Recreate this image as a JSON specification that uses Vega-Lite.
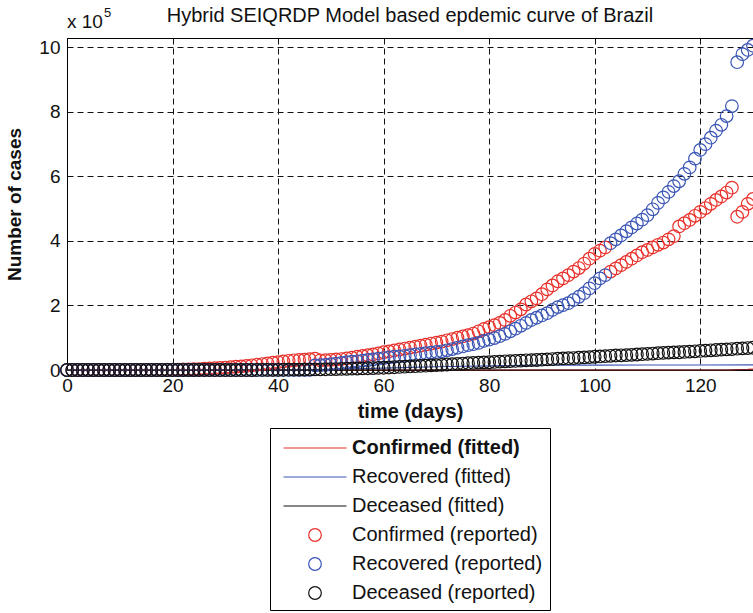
{
"$schema": "https://vega.github.io/schema/vega-lite/v6.json",
"autosize": {"type": "none"},
"padding": {"left": 67, "top": 38, "right": 0, "bottom": 243},
"width": 686,
"height": 332,
"background": "white",
"config": {"font": "Liberation Sans", "view": {"stroke": "black", "strokeWidth": 1}},
"datasets": {
"fitted": [
{"day":0,"series":"Confirmed (fitted)","cases":0},{"day":40,"series":"Confirmed (fitted)","cases":0},{"day":80,"series":"Confirmed (fitted)","cases":0},{"day":120,"series":"Confirmed (fitted)","cases":0},{"day":125,"series":"Confirmed (fitted)","cases":0},{"day":126,"series":"Confirmed (fitted)","cases":500},{"day":127,"series":"Confirmed (fitted)","cases":1000},{"day":128,"series":"Confirmed (fitted)","cases":1500},{"day":129,"series":"Confirmed (fitted)","cases":2000},{"day":130,"series":"Confirmed (fitted)","cases":3000},
{"day":0,"series":"Recovered (fitted)","cases":0},{"day":20,"series":"Recovered (fitted)","cases":0},{"day":40,"series":"Recovered (fitted)","cases":0},{"day":50,"series":"Recovered (fitted)","cases":2000},{"day":60,"series":"Recovered (fitted)","cases":6000},{"day":70,"series":"Recovered (fitted)","cases":10000},{"day":80,"series":"Recovered (fitted)","cases":13000},{"day":90,"series":"Recovered (fitted)","cases":15000},{"day":100,"series":"Recovered (fitted)","cases":15000},{"day":110,"series":"Recovered (fitted)","cases":15500},{"day":120,"series":"Recovered (fitted)","cases":15500},{"day":130,"series":"Recovered (fitted)","cases":16000},
{"day":0,"series":"Deceased (fitted)","cases":0},{"day":65,"series":"Deceased (fitted)","cases":0},{"day":130,"series":"Deceased (fitted)","cases":0}
],
"reported": [
{"day":0,"series":"Confirmed (reported)","cases":0},{"day":1,"series":"Confirmed (reported)","cases":0},{"day":2,"series":"Confirmed (reported)","cases":0},{"day":3,"series":"Confirmed (reported)","cases":0},{"day":4,"series":"Confirmed (reported)","cases":0},{"day":5,"series":"Confirmed (reported)","cases":0},{"day":6,"series":"Confirmed (reported)","cases":0},{"day":7,"series":"Confirmed (reported)","cases":0},{"day":8,"series":"Confirmed (reported)","cases":0},{"day":9,"series":"Confirmed (reported)","cases":0},
{"day":10,"series":"Confirmed (reported)","cases":0},{"day":11,"series":"Confirmed (reported)","cases":0},{"day":12,"series":"Confirmed (reported)","cases":0},{"day":13,"series":"Confirmed (reported)","cases":0},{"day":14,"series":"Confirmed (reported)","cases":100},{"day":15,"series":"Confirmed (reported)","cases":200},{"day":16,"series":"Confirmed (reported)","cases":300},{"day":17,"series":"Confirmed (reported)","cases":400},{"day":18,"series":"Confirmed (reported)","cases":500},{"day":19,"series":"Confirmed (reported)","cases":700},
{"day":20,"series":"Confirmed (reported)","cases":1000},{"day":21,"series":"Confirmed (reported)","cases":1200},{"day":22,"series":"Confirmed (reported)","cases":1600},{"day":23,"series":"Confirmed (reported)","cases":2000},{"day":24,"series":"Confirmed (reported)","cases":2500},{"day":25,"series":"Confirmed (reported)","cases":3000},{"day":26,"series":"Confirmed (reported)","cases":3800},{"day":27,"series":"Confirmed (reported)","cases":4600},{"day":28,"series":"Confirmed (reported)","cases":5500},{"day":29,"series":"Confirmed (reported)","cases":6500},
{"day":30,"series":"Confirmed (reported)","cases":7600},{"day":31,"series":"Confirmed (reported)","cases":8800},{"day":32,"series":"Confirmed (reported)","cases":10000},{"day":33,"series":"Confirmed (reported)","cases":11200},{"day":34,"series":"Confirmed (reported)","cases":12800},{"day":35,"series":"Confirmed (reported)","cases":14500},{"day":36,"series":"Confirmed (reported)","cases":16500},{"day":37,"series":"Confirmed (reported)","cases":18500},{"day":38,"series":"Confirmed (reported)","cases":20500},{"day":39,"series":"Confirmed (reported)","cases":22500},
{"day":40,"series":"Confirmed (reported)","cases":24500},{"day":41,"series":"Confirmed (reported)","cases":26500},{"day":42,"series":"Confirmed (reported)","cases":28500},{"day":43,"series":"Confirmed (reported)","cases":30000},{"day":44,"series":"Confirmed (reported)","cases":31000},{"day":45,"series":"Confirmed (reported)","cases":32000},{"day":46,"series":"Confirmed (reported)","cases":33500},{"day":47,"series":"Confirmed (reported)","cases":35000},{"day":48,"series":"Confirmed (reported)","cases":30000},{"day":49,"series":"Confirmed (reported)","cases":30500},
{"day":50,"series":"Confirmed (reported)","cases":31500},{"day":51,"series":"Confirmed (reported)","cases":32500},{"day":52,"series":"Confirmed (reported)","cases":34000},{"day":53,"series":"Confirmed (reported)","cases":36000},{"day":54,"series":"Confirmed (reported)","cases":38500},{"day":55,"series":"Confirmed (reported)","cases":41000},{"day":56,"series":"Confirmed (reported)","cases":43500},{"day":57,"series":"Confirmed (reported)","cases":46000},{"day":58,"series":"Confirmed (reported)","cases":48500},{"day":59,"series":"Confirmed (reported)","cases":51500},
{"day":60,"series":"Confirmed (reported)","cases":55000},{"day":61,"series":"Confirmed (reported)","cases":57500},{"day":62,"series":"Confirmed (reported)","cases":60500},{"day":63,"series":"Confirmed (reported)","cases":63500},{"day":64,"series":"Confirmed (reported)","cases":66500},{"day":65,"series":"Confirmed (reported)","cases":69500},{"day":66,"series":"Confirmed (reported)","cases":72500},{"day":67,"series":"Confirmed (reported)","cases":75500},{"day":68,"series":"Confirmed (reported)","cases":78500},{"day":69,"series":"Confirmed (reported)","cases":82000},
{"day":70,"series":"Confirmed (reported)","cases":85000},{"day":71,"series":"Confirmed (reported)","cases":88000},{"day":72,"series":"Confirmed (reported)","cases":92000},{"day":73,"series":"Confirmed (reported)","cases":96000},{"day":74,"series":"Confirmed (reported)","cases":100000},{"day":75,"series":"Confirmed (reported)","cases":104000},{"day":76,"series":"Confirmed (reported)","cases":108000},{"day":77,"series":"Confirmed (reported)","cases":113000},{"day":78,"series":"Confirmed (reported)","cases":120000},{"day":79,"series":"Confirmed (reported)","cases":127000},
{"day":80,"series":"Confirmed (reported)","cases":133000},{"day":81,"series":"Confirmed (reported)","cases":139000},{"day":82,"series":"Confirmed (reported)","cases":146000},{"day":83,"series":"Confirmed (reported)","cases":155000},{"day":84,"series":"Confirmed (reported)","cases":168000},{"day":85,"series":"Confirmed (reported)","cases":178000},{"day":86,"series":"Confirmed (reported)","cases":188000},{"day":87,"series":"Confirmed (reported)","cases":203000},{"day":88,"series":"Confirmed (reported)","cases":213000},{"day":89,"series":"Confirmed (reported)","cases":222000},
{"day":90,"series":"Confirmed (reported)","cases":235000},{"day":91,"series":"Confirmed (reported)","cases":250000},{"day":92,"series":"Confirmed (reported)","cases":262000},{"day":93,"series":"Confirmed (reported)","cases":275000},{"day":94,"series":"Confirmed (reported)","cases":284000},{"day":95,"series":"Confirmed (reported)","cases":294000},{"day":96,"series":"Confirmed (reported)","cases":305000},{"day":97,"series":"Confirmed (reported)","cases":316000},{"day":98,"series":"Confirmed (reported)","cases":330000},{"day":99,"series":"Confirmed (reported)","cases":345000},
{"day":100,"series":"Confirmed (reported)","cases":360000},{"day":101,"series":"Confirmed (reported)","cases":370000},{"day":102,"series":"Confirmed (reported)","cases":380000},{"day":103,"series":"Confirmed (reported)","cases":305000},{"day":104,"series":"Confirmed (reported)","cases":315000},{"day":105,"series":"Confirmed (reported)","cases":325000},{"day":106,"series":"Confirmed (reported)","cases":335000},{"day":107,"series":"Confirmed (reported)","cases":345000},{"day":108,"series":"Confirmed (reported)","cases":355000},{"day":109,"series":"Confirmed (reported)","cases":365000},
{"day":110,"series":"Confirmed (reported)","cases":372000},{"day":111,"series":"Confirmed (reported)","cases":380000},{"day":112,"series":"Confirmed (reported)","cases":388000},{"day":113,"series":"Confirmed (reported)","cases":395000},{"day":114,"series":"Confirmed (reported)","cases":405000},{"day":115,"series":"Confirmed (reported)","cases":415000},{"day":116,"series":"Confirmed (reported)","cases":445000},{"day":117,"series":"Confirmed (reported)","cases":455000},{"day":118,"series":"Confirmed (reported)","cases":465000},{"day":119,"series":"Confirmed (reported)","cases":478000},
{"day":120,"series":"Confirmed (reported)","cases":490000},{"day":121,"series":"Confirmed (reported)","cases":502000},{"day":122,"series":"Confirmed (reported)","cases":515000},{"day":123,"series":"Confirmed (reported)","cases":527000},{"day":124,"series":"Confirmed (reported)","cases":538000},{"day":125,"series":"Confirmed (reported)","cases":550000},{"day":126,"series":"Confirmed (reported)","cases":565000},{"day":127,"series":"Confirmed (reported)","cases":475000},{"day":128,"series":"Confirmed (reported)","cases":490000},{"day":129,"series":"Confirmed (reported)","cases":515000},
{"day":130,"series":"Confirmed (reported)","cases":530000},
{"day":0,"series":"Recovered (reported)","cases":0},{"day":1,"series":"Recovered (reported)","cases":0},{"day":2,"series":"Recovered (reported)","cases":0},{"day":3,"series":"Recovered (reported)","cases":0},{"day":4,"series":"Recovered (reported)","cases":0},{"day":5,"series":"Recovered (reported)","cases":0},{"day":6,"series":"Recovered (reported)","cases":0},{"day":7,"series":"Recovered (reported)","cases":0},{"day":8,"series":"Recovered (reported)","cases":0},{"day":9,"series":"Recovered (reported)","cases":0},
{"day":10,"series":"Recovered (reported)","cases":0},{"day":11,"series":"Recovered (reported)","cases":0},{"day":12,"series":"Recovered (reported)","cases":0},{"day":13,"series":"Recovered (reported)","cases":0},{"day":14,"series":"Recovered (reported)","cases":0},{"day":15,"series":"Recovered (reported)","cases":0},{"day":16,"series":"Recovered (reported)","cases":0},{"day":17,"series":"Recovered (reported)","cases":0},{"day":18,"series":"Recovered (reported)","cases":0},{"day":19,"series":"Recovered (reported)","cases":0},
{"day":20,"series":"Recovered (reported)","cases":0},{"day":21,"series":"Recovered (reported)","cases":0},{"day":22,"series":"Recovered (reported)","cases":0},{"day":23,"series":"Recovered (reported)","cases":0},{"day":24,"series":"Recovered (reported)","cases":0},{"day":25,"series":"Recovered (reported)","cases":100},{"day":26,"series":"Recovered (reported)","cases":100},{"day":27,"series":"Recovered (reported)","cases":100},{"day":28,"series":"Recovered (reported)","cases":100},{"day":29,"series":"Recovered (reported)","cases":100},
{"day":30,"series":"Recovered (reported)","cases":100},{"day":31,"series":"Recovered (reported)","cases":100},{"day":32,"series":"Recovered (reported)","cases":100},{"day":33,"series":"Recovered (reported)","cases":100},{"day":34,"series":"Recovered (reported)","cases":100},{"day":35,"series":"Recovered (reported)","cases":100},{"day":36,"series":"Recovered (reported)","cases":100},{"day":37,"series":"Recovered (reported)","cases":100},{"day":38,"series":"Recovered (reported)","cases":100},{"day":39,"series":"Recovered (reported)","cases":100},
{"day":40,"series":"Recovered (reported)","cases":100},{"day":41,"series":"Recovered (reported)","cases":100},{"day":42,"series":"Recovered (reported)","cases":100},{"day":43,"series":"Recovered (reported)","cases":100},{"day":44,"series":"Recovered (reported)","cases":100},{"day":45,"series":"Recovered (reported)","cases":100},{"day":46,"series":"Recovered (reported)","cases":100},{"day":47,"series":"Recovered (reported)","cases":14000},{"day":48,"series":"Recovered (reported)","cases":15000},{"day":49,"series":"Recovered (reported)","cases":16000},
{"day":50,"series":"Recovered (reported)","cases":18000},{"day":51,"series":"Recovered (reported)","cases":20000},{"day":52,"series":"Recovered (reported)","cases":22000},{"day":53,"series":"Recovered (reported)","cases":24000},{"day":54,"series":"Recovered (reported)","cases":26000},{"day":55,"series":"Recovered (reported)","cases":27000},{"day":56,"series":"Recovered (reported)","cases":29000},{"day":57,"series":"Recovered (reported)","cases":31000},{"day":58,"series":"Recovered (reported)","cases":33000},{"day":59,"series":"Recovered (reported)","cases":35000},
{"day":60,"series":"Recovered (reported)","cases":37000},{"day":61,"series":"Recovered (reported)","cases":39000},{"day":62,"series":"Recovered (reported)","cases":41000},{"day":63,"series":"Recovered (reported)","cases":42000},{"day":64,"series":"Recovered (reported)","cases":44000},{"day":65,"series":"Recovered (reported)","cases":46000},{"day":66,"series":"Recovered (reported)","cases":48000},{"day":67,"series":"Recovered (reported)","cases":50000},{"day":68,"series":"Recovered (reported)","cases":52000},{"day":69,"series":"Recovered (reported)","cases":54000},
{"day":70,"series":"Recovered (reported)","cases":56000},{"day":71,"series":"Recovered (reported)","cases":58000},{"day":72,"series":"Recovered (reported)","cases":61000},{"day":73,"series":"Recovered (reported)","cases":65000},{"day":74,"series":"Recovered (reported)","cases":69000},{"day":75,"series":"Recovered (reported)","cases":73000},{"day":76,"series":"Recovered (reported)","cases":77000},{"day":77,"series":"Recovered (reported)","cases":80000},{"day":78,"series":"Recovered (reported)","cases":84000},{"day":79,"series":"Recovered (reported)","cases":90000},
{"day":80,"series":"Recovered (reported)","cases":94000},{"day":81,"series":"Recovered (reported)","cases":99000},{"day":82,"series":"Recovered (reported)","cases":105000},{"day":83,"series":"Recovered (reported)","cases":112000},{"day":84,"series":"Recovered (reported)","cases":120000},{"day":85,"series":"Recovered (reported)","cases":128000},{"day":86,"series":"Recovered (reported)","cases":137000},{"day":87,"series":"Recovered (reported)","cases":146000},{"day":88,"series":"Recovered (reported)","cases":155000},{"day":89,"series":"Recovered (reported)","cases":162000},
{"day":90,"series":"Recovered (reported)","cases":169000},{"day":91,"series":"Recovered (reported)","cases":176000},{"day":92,"series":"Recovered (reported)","cases":186000},{"day":93,"series":"Recovered (reported)","cases":195000},{"day":94,"series":"Recovered (reported)","cases":201000},{"day":95,"series":"Recovered (reported)","cases":207000},{"day":96,"series":"Recovered (reported)","cases":217000},{"day":97,"series":"Recovered (reported)","cases":227000},{"day":98,"series":"Recovered (reported)","cases":238000},{"day":99,"series":"Recovered (reported)","cases":253000},
{"day":100,"series":"Recovered (reported)","cases":269000},{"day":101,"series":"Recovered (reported)","cases":284000},{"day":102,"series":"Recovered (reported)","cases":294000},{"day":103,"series":"Recovered (reported)","cases":393000},{"day":104,"series":"Recovered (reported)","cases":405000},{"day":105,"series":"Recovered (reported)","cases":417000},{"day":106,"series":"Recovered (reported)","cases":430000},{"day":107,"series":"Recovered (reported)","cases":442000},{"day":108,"series":"Recovered (reported)","cases":454000},{"day":109,"series":"Recovered (reported)","cases":466000},
{"day":110,"series":"Recovered (reported)","cases":480000},{"day":111,"series":"Recovered (reported)","cases":498000},{"day":112,"series":"Recovered (reported)","cases":518000},{"day":113,"series":"Recovered (reported)","cases":535000},{"day":114,"series":"Recovered (reported)","cases":552000},{"day":115,"series":"Recovered (reported)","cases":570000},{"day":116,"series":"Recovered (reported)","cases":585000},{"day":117,"series":"Recovered (reported)","cases":608000},{"day":118,"series":"Recovered (reported)","cases":628000},{"day":119,"series":"Recovered (reported)","cases":655000},
{"day":120,"series":"Recovered (reported)","cases":682000},{"day":121,"series":"Recovered (reported)","cases":700000},{"day":122,"series":"Recovered (reported)","cases":720000},{"day":123,"series":"Recovered (reported)","cases":742000},{"day":124,"series":"Recovered (reported)","cases":760000},{"day":125,"series":"Recovered (reported)","cases":787000},{"day":126,"series":"Recovered (reported)","cases":818000},{"day":127,"series":"Recovered (reported)","cases":954000},{"day":128,"series":"Recovered (reported)","cases":979000},{"day":129,"series":"Recovered (reported)","cases":992000},
{"day":130,"series":"Recovered (reported)","cases":1005000},
{"day":0,"series":"Deceased  (reported)","cases":0},{"day":1,"series":"Deceased  (reported)","cases":0},{"day":2,"series":"Deceased  (reported)","cases":0},{"day":3,"series":"Deceased  (reported)","cases":0},{"day":4,"series":"Deceased  (reported)","cases":0},{"day":5,"series":"Deceased  (reported)","cases":0},{"day":6,"series":"Deceased  (reported)","cases":0},{"day":7,"series":"Deceased  (reported)","cases":0},{"day":8,"series":"Deceased  (reported)","cases":0},{"day":9,"series":"Deceased  (reported)","cases":0},
{"day":10,"series":"Deceased  (reported)","cases":0},{"day":11,"series":"Deceased  (reported)","cases":0},{"day":12,"series":"Deceased  (reported)","cases":0},{"day":13,"series":"Deceased  (reported)","cases":0},{"day":14,"series":"Deceased  (reported)","cases":0},{"day":15,"series":"Deceased  (reported)","cases":0},{"day":16,"series":"Deceased  (reported)","cases":0},{"day":17,"series":"Deceased  (reported)","cases":0},{"day":18,"series":"Deceased  (reported)","cases":0},{"day":19,"series":"Deceased  (reported)","cases":0},
{"day":20,"series":"Deceased  (reported)","cases":0},{"day":21,"series":"Deceased  (reported)","cases":0},{"day":22,"series":"Deceased  (reported)","cases":0},{"day":23,"series":"Deceased  (reported)","cases":0},{"day":24,"series":"Deceased  (reported)","cases":0},{"day":25,"series":"Deceased  (reported)","cases":0},{"day":26,"series":"Deceased  (reported)","cases":0},{"day":27,"series":"Deceased  (reported)","cases":0},{"day":28,"series":"Deceased  (reported)","cases":0},{"day":29,"series":"Deceased  (reported)","cases":0},
{"day":30,"series":"Deceased  (reported)","cases":0},{"day":31,"series":"Deceased  (reported)","cases":0},{"day":32,"series":"Deceased  (reported)","cases":0},{"day":33,"series":"Deceased  (reported)","cases":0},{"day":34,"series":"Deceased  (reported)","cases":0},{"day":35,"series":"Deceased  (reported)","cases":0},{"day":36,"series":"Deceased  (reported)","cases":200},{"day":37,"series":"Deceased  (reported)","cases":300},{"day":38,"series":"Deceased  (reported)","cases":400},{"day":39,"series":"Deceased  (reported)","cases":500},
{"day":40,"series":"Deceased  (reported)","cases":600},{"day":41,"series":"Deceased  (reported)","cases":800},{"day":42,"series":"Deceased  (reported)","cases":1000},{"day":43,"series":"Deceased  (reported)","cases":1200},{"day":44,"series":"Deceased  (reported)","cases":1300},{"day":45,"series":"Deceased  (reported)","cases":1500},{"day":46,"series":"Deceased  (reported)","cases":1700},{"day":47,"series":"Deceased  (reported)","cases":1900},{"day":48,"series":"Deceased  (reported)","cases":2100},{"day":49,"series":"Deceased  (reported)","cases":2400},
{"day":50,"series":"Deceased  (reported)","cases":2700},{"day":51,"series":"Deceased  (reported)","cases":3000},{"day":52,"series":"Deceased  (reported)","cases":3400},{"day":53,"series":"Deceased  (reported)","cases":3800},{"day":54,"series":"Deceased  (reported)","cases":4200},{"day":55,"series":"Deceased  (reported)","cases":4600},{"day":56,"series":"Deceased  (reported)","cases":5000},{"day":57,"series":"Deceased  (reported)","cases":5500},{"day":58,"series":"Deceased  (reported)","cases":6000},{"day":59,"series":"Deceased  (reported)","cases":6500},
{"day":60,"series":"Deceased  (reported)","cases":7000},{"day":61,"series":"Deceased  (reported)","cases":7800},{"day":62,"series":"Deceased  (reported)","cases":8600},{"day":63,"series":"Deceased  (reported)","cases":9400},{"day":64,"series":"Deceased  (reported)","cases":10200},{"day":65,"series":"Deceased  (reported)","cases":11000},{"day":66,"series":"Deceased  (reported)","cases":11800},{"day":67,"series":"Deceased  (reported)","cases":12600},{"day":68,"series":"Deceased  (reported)","cases":13400},{"day":69,"series":"Deceased  (reported)","cases":14200},
{"day":70,"series":"Deceased  (reported)","cases":15000},{"day":71,"series":"Deceased  (reported)","cases":16000},{"day":72,"series":"Deceased  (reported)","cases":17000},{"day":73,"series":"Deceased  (reported)","cases":18000},{"day":74,"series":"Deceased  (reported)","cases":19000},{"day":75,"series":"Deceased  (reported)","cases":20000},{"day":76,"series":"Deceased  (reported)","cases":21000},{"day":77,"series":"Deceased  (reported)","cases":22000},{"day":78,"series":"Deceased  (reported)","cases":23000},{"day":79,"series":"Deceased  (reported)","cases":23500},
{"day":80,"series":"Deceased  (reported)","cases":24000},{"day":81,"series":"Deceased  (reported)","cases":25000},{"day":82,"series":"Deceased  (reported)","cases":26000},{"day":83,"series":"Deceased  (reported)","cases":27000},{"day":84,"series":"Deceased  (reported)","cases":27500},{"day":85,"series":"Deceased  (reported)","cases":28000},{"day":86,"series":"Deceased  (reported)","cases":29000},{"day":87,"series":"Deceased  (reported)","cases":30000},{"day":88,"series":"Deceased  (reported)","cases":30500},{"day":89,"series":"Deceased  (reported)","cases":31000},
{"day":90,"series":"Deceased  (reported)","cases":32000},{"day":91,"series":"Deceased  (reported)","cases":33000},{"day":92,"series":"Deceased  (reported)","cases":34000},{"day":93,"series":"Deceased  (reported)","cases":35000},{"day":94,"series":"Deceased  (reported)","cases":36000},{"day":95,"series":"Deceased  (reported)","cases":36500},{"day":96,"series":"Deceased  (reported)","cases":37000},{"day":97,"series":"Deceased  (reported)","cases":38000},{"day":98,"series":"Deceased  (reported)","cases":39000},{"day":99,"series":"Deceased  (reported)","cases":40000},
{"day":100,"series":"Deceased  (reported)","cases":41000},{"day":101,"series":"Deceased  (reported)","cases":42000},{"day":102,"series":"Deceased  (reported)","cases":43000},{"day":103,"series":"Deceased  (reported)","cases":44000},{"day":104,"series":"Deceased  (reported)","cases":45000},{"day":105,"series":"Deceased  (reported)","cases":45500},{"day":106,"series":"Deceased  (reported)","cases":46000},{"day":107,"series":"Deceased  (reported)","cases":47000},{"day":108,"series":"Deceased  (reported)","cases":48000},{"day":109,"series":"Deceased  (reported)","cases":49000},
{"day":110,"series":"Deceased  (reported)","cases":50000},{"day":111,"series":"Deceased  (reported)","cases":51000},{"day":112,"series":"Deceased  (reported)","cases":52000},{"day":113,"series":"Deceased  (reported)","cases":53000},{"day":114,"series":"Deceased  (reported)","cases":54000},{"day":115,"series":"Deceased  (reported)","cases":54500},{"day":116,"series":"Deceased  (reported)","cases":55000},{"day":117,"series":"Deceased  (reported)","cases":56000},{"day":118,"series":"Deceased  (reported)","cases":57000},{"day":119,"series":"Deceased  (reported)","cases":58000},
{"day":120,"series":"Deceased  (reported)","cases":59000},{"day":121,"series":"Deceased  (reported)","cases":60000},{"day":122,"series":"Deceased  (reported)","cases":61000},{"day":123,"series":"Deceased  (reported)","cases":62000},{"day":124,"series":"Deceased  (reported)","cases":63000},{"day":125,"series":"Deceased  (reported)","cases":64000},{"day":126,"series":"Deceased  (reported)","cases":65000},{"day":127,"series":"Deceased  (reported)","cases":66000},{"day":128,"series":"Deceased  (reported)","cases":67000},{"day":129,"series":"Deceased  (reported)","cases":68000},
{"day":130,"series":"Deceased  (reported)","cases":69000}
],
"note": [{"label": "x 10", "day": 0, "cases": 1029000}],
"heading": [{"label": "Hybrid SEIQRDP Model based epdemic curve of Brazil", "day": 65, "cases": 1029000}]
},
"layer": [
{"data": {"name": "fitted"},
 "mark": {"type": "line", "strokeWidth": 1.2},
 "encoding": {
  "x": {"field": "day", "type": "quantitative", "scale": {"domain": [0, 130], "nice": false, "zero": false},
   "axis": {"title": "time (days)", "values": [0,20,40,60,80,100,120], "labelFontSize": 19, "labelColor": "#111", "labelPadding": 6, "labelFlush": false, "labelOverlap": false, "ticks": false, "domainColor": "black", "grid": true, "gridColor": "#111", "gridDash": [6,4], "gridOpacity": 1, "titleFontSize": 20, "titleFontWeight": "bold", "titleColor": "#111", "titlePadding": 6}},
  "y": {"field": "cases", "type": "quantitative", "scale": {"domain": [0, 1029000], "nice": false},
   "axis": {"title": "Number of cases", "values": [0,200000,400000,600000,800000,1000000], "labelExpr": "format(datum.value/100000, 'd')", "labelFontSize": 19, "labelColor": "#111", "labelPadding": 7, "labelFlush": false, "labelOverlap": false, "ticks": false, "domainColor": "black", "grid": true, "gridColor": "#111", "gridDash": [6,4], "gridOpacity": 1, "titleFontSize": 19, "titleFontWeight": "bold", "titleColor": "#111", "titlePadding": 14}},
  "color": {"field": "series", "type": "nominal",
   "scale": {"domain": ["Confirmed (fitted)","Recovered (fitted)","Deceased (fitted)","Confirmed (reported)","Recovered (reported)","Deceased  (reported)"], "range": ["#e8302a","#3a55b5","#111111","#e8302a","#3a55b5","#111111"]},
   "legend": {"title": null, "orient": "none", "legendX": 203, "legendY": 390, "direction": "vertical", "strokeColor": "black", "fillColor": "white", "padding": 7, "labelFontSize": 20, "labelColor": "#111", "labelLimit": 400, "symbolSize": 576, "symbolOffset": 25, "labelOffset": 24, "symbolStrokeWidth": 1.2, "rowPadding": 6,
     "labelFontWeight": {"expr": "datum.value == 'Confirmed (fitted)' ? 'bold' : 'normal'"}}}}},
{"data": {"name": "reported"},
 "mark": {"type": "point", "filled": false, "size": 576, "strokeWidth": 1.2, "opacity": 1},
 "encoding": {
  "x": {"field": "day", "type": "quantitative"},
  "y": {"field": "cases", "type": "quantitative"},
  "color": {"field": "series", "type": "nominal"},
  "shape": {"field": "series", "type": "nominal", "scale": {"domain": ["Confirmed (fitted)","Recovered (fitted)","Deceased (fitted)","Confirmed (reported)","Recovered (reported)","Deceased  (reported)"], "range": ["M-2.625,0H2.625","M-2.625,0H2.625","M-2.625,0H2.625","M0.525,0A0.525,0.525,0,1,1,-0.525,0A0.525,0.525,0,1,1,0.525,0Z","M0.525,0A0.525,0.525,0,1,1,-0.525,0A0.525,0.525,0,1,1,0.525,0Z","M0.525,0A0.525,0.525,0,1,1,-0.525,0A0.525,0.525,0,1,1,0.525,0Z"]}}}},
{"data": {"name": "note"},
 "mark": {"type": "text", "align": "left", "baseline": "alphabetic", "fontSize": 19, "color": "#111", "dx": 0, "dy": -10},
 "encoding": {"x": {"field": "day", "type": "quantitative"}, "y": {"field": "cases", "type": "quantitative"}, "text": {"field": "label"}}},
{"data": {"name": "note"},
 "mark": {"type": "text", "align": "left", "baseline": "alphabetic", "fontSize": 13, "color": "#111", "dx": 37, "dy": -21, "text": "5"},
 "encoding": {"x": {"field": "day", "type": "quantitative"}, "y": {"field": "cases", "type": "quantitative"}}},
{"data": {"name": "heading"},
 "mark": {"type": "text", "align": "center", "baseline": "alphabetic", "fontSize": 20, "color": "#111", "dx": 0, "dy": -16},
 "encoding": {"x": {"field": "day", "type": "quantitative"}, "y": {"field": "cases", "type": "quantitative"}, "text": {"field": "label"}}}
]
}
